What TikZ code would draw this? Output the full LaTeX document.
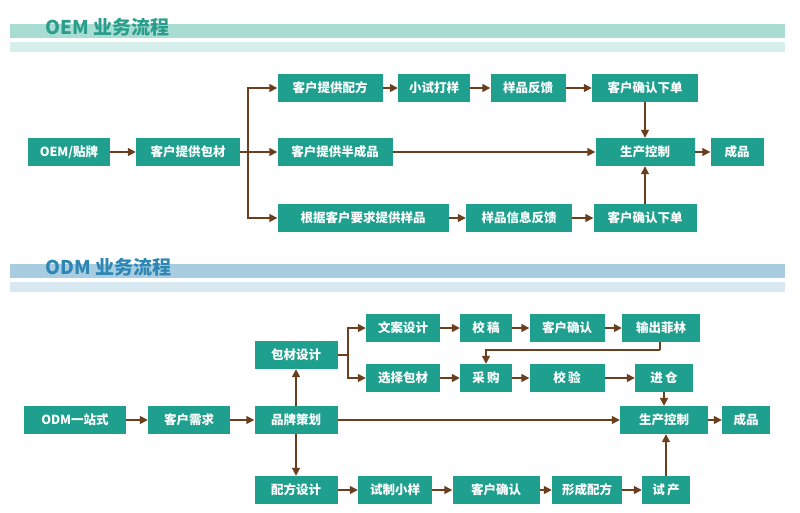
\documentclass[tikz,border=0pt]{standalone}
\usepackage{fontspec}
\setmainfont{Noto Sans CJK SC}
\usetikzlibrary{arrows.meta}
\definecolor{boxteal}{HTML}{1FA08F}
\definecolor{linebrown}{HTML}{6B3E1E}
\definecolor{bandA}{HTML}{A9DCD3}
\definecolor{bandB}{HTML}{D6EFEA}
\definecolor{bandC}{HTML}{A9CDE0}
\definecolor{bandD}{HTML}{D8E8F0}
\definecolor{titleA}{HTML}{2A9E8A}
\definecolor{titleB}{HTML}{2E86B5}
\tikzset{
  stepbox/.style={fill=boxteal, text=white, font=\bfseries\fontsize{12.5}{12.5}\selectfont, minimum height=28pt, inner sep=2pt},
  flow/.style={draw=linebrown, line width=1.4pt, -{Triangle[length=8pt,width=8pt]}},
  link/.style={draw=linebrown, line width=1.4pt},
}
\begin{document}
\begin{tikzpicture}[x=1pt,y=-1pt]
\useasboundingbox (0,0) rectangle (800,512);
% headers
\fill[bandA] (10,24) rectangle (785,38);
\fill[bandB] (10,42) rectangle (785,52);
\node[text=titleA, font=\bfseries\fontsize{19}{19}\selectfont, anchor=west] (oemtitle) at (42,27) {OEM 业务流程};
\fill[bandC] (10,264) rectangle (785,278);
\fill[bandD] (10,282) rectangle (785,292);
\node[text=titleB, font=\bfseries\fontsize{19}{19}\selectfont, anchor=west] (odmtitle) at (42,267) {ODM 业务流程};

% OEM
\node[stepbox, minimum width=82pt] (oa) at (69,152) {OEM/贴牌};
\node[stepbox, minimum width=104pt] (ob) at (188,152) {客户提供包材};
\node[stepbox, minimum width=105pt] (oc) at (330,88) {客户提供配方};
\node[stepbox, minimum width=72pt] (od) at (434,88) {小试打样};
\node[stepbox, minimum width=75pt] (oe) at (528,88) {样品反馈};
\node[stepbox, minimum width=106pt] (of) at (645,88) {客户确认下单};
\node[stepbox, minimum width=115pt] (og) at (335,152) {客户提供半成品};
\node[stepbox, minimum width=99pt] (oh) at (645,152) {生产控制};
\node[stepbox, minimum width=53pt] (oi) at (737,152) {成品};
\node[stepbox, minimum width=171pt] (oj) at (363,218) {根据客户要求提供样品};
\node[stepbox, minimum width=106pt] (ok) at (519,218) {样品信息反馈};
\node[stepbox, minimum width=103pt] (ol) at (645,218) {客户确认下单};
\coordinate (obr) at (248,152);
\draw[flow] (oa) -- (ob);
\draw[link] (ob) -- (obr);
\draw[flow] (obr) |- (oc);
\draw[flow] (obr) -- (og);
\draw[flow] (obr) |- (oj);
\draw[flow] (oc) -- (od);
\draw[flow] (od) -- (oe);
\draw[flow] (oe) -- (of);
\draw[flow] (of) -- (oh);
\draw[flow] (og) -- (oh);
\draw[flow] (oh) -- (oi);
\draw[flow] (oj) -- (ok);
\draw[flow] (ok) -- (ol);
\draw[flow] (ol) -- (oh);

% ODM
\node[stepbox, minimum width=102pt] (ma) at (75,420) {ODM一站式};
\node[stepbox, minimum width=82pt] (mb) at (189,420) {客户需求};
\node[stepbox, minimum width=83pt] (mc) at (296,420) {品牌策划};
\node[stepbox, minimum width=83pt] (md) at (296,355) {包材设计};
\node[stepbox, minimum width=74pt] (me) at (403,328) {文案设计};
\node[stepbox, minimum width=52pt] (mf) at (486,328) {校\,稿};
\node[stepbox, minimum width=75pt] (mg) at (567,328) {客户确认};
\node[stepbox, minimum width=78pt] (mh) at (661,328) {输出菲林};
\node[stepbox, minimum width=74pt] (mi) at (403,378) {选择包材};
\node[stepbox, minimum width=52pt] (mj) at (486,378) {采\,购};
\node[stepbox, minimum width=75pt] (mk) at (567,378) {校\,验};
\node[stepbox, minimum width=58pt] (ml) at (664,378) {进\,仓};
\node[stepbox, minimum width=88pt] (mm) at (664,420) {生产控制};
\node[stepbox, minimum width=48pt] (mn) at (746,420) {成品};
\node[stepbox, minimum width=83pt] (mo) at (296,490) {配方设计};
\node[stepbox, minimum width=74pt] (mp) at (395,490) {试制小样};
\node[stepbox, minimum width=87pt] (mq) at (496,490) {客户确认};
\node[stepbox, minimum width=70pt] (mr) at (587,490) {形成配方};
\node[stepbox, minimum width=48pt] (ms) at (666,490) {试\,产};
\coordinate (mbr) at (348,355);
\coordinate (mturn) at (660,350);
\draw[flow] (ma) -- (mb);
\draw[flow] (mb) -- (mc);
\draw[flow] (mc) -- (md);
\draw[flow] (mc) -- (mo);
\draw[flow] (mc) -- (mm);
\draw[link] (md) -- (mbr);
\draw[flow] (mbr) |- (me);
\draw[flow] (mbr) |- (mi);
\draw[flow] (me) -- (mf);
\draw[flow] (mf) -- (mg);
\draw[flow] (mg) -- (mh);
\draw[link] (mh.south -| mturn) -- (mturn);
\draw[flow] (mturn) -| (mj);
\draw[flow] (mi) -- (mj);
\draw[flow] (mj) -- (mk);
\draw[flow] (mk) -- (ml);
\draw[flow] (ml) -- (mm);
\draw[flow] (mm) -- (mn);
\draw[flow] (mo) -- (mp);
\draw[flow] (mp) -- (mq);
\draw[flow] (mq) -- (mr);
\draw[flow] (mr) -- (ms);
\draw[flow] (ms) -- (ms |- mm.south);
\end{tikzpicture}
\end{document}
